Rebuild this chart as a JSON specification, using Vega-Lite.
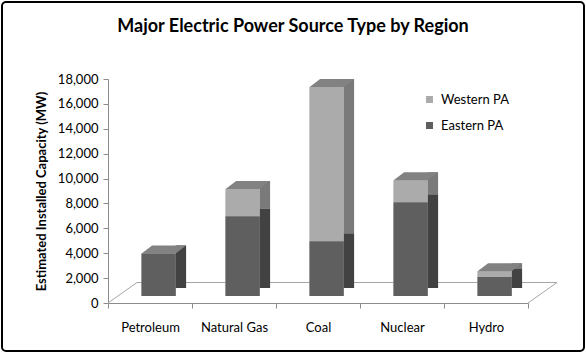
{
  "$schema": "https://vega.github.io/schema/vega-lite/v6.json",
  "width": 582,
  "height": 349,
  "autosize": "none",
  "padding": 2,
  "background": "white",
  "config": {
    "view": {"stroke": "#000000", "strokeWidth": 2, "cornerRadius": 4},
    "font": "Lato",
    "axis": {"domainColor": "#8c8c8c", "tickColor": "#8c8c8c", "labelColor": "#000000", "labelFont": "Lato", "labelFontSize": 13, "grid": false, "titleFont": "Lato", "titleFontSize": 13, "titleFontWeight": "bold", "titleColor": "#000000"},
    "axisX": {"labelAngle": 0, "tickBand": "extent", "tickSize": 5, "labelPadding": 13, "offset": -48},
    "axisY": {"tickSize": 5, "labelPadding": 5, "offset": -106, "titlePadding": 9}
  },
  "title": {
    "text": "Major Electric Power Source Type by Region",
    "font": "Lato",
    "fontSize": 18,
    "fontWeight": "bold",
    "color": "#000000",
    "anchor": "middle",
    "frame": "group",
    "baseline": "alphabetic",
    "offset": -48
  },
  "data": {
    "values": [
      {"Source": "Petroleum", "Region": "Eastern PA", "MW": 3420},
      {"Source": "Natural Gas", "Region": "Eastern PA", "MW": 6400},
      {"Source": "Coal", "Region": "Eastern PA", "MW": 4400},
      {"Source": "Nuclear", "Region": "Eastern PA", "MW": 7530},
      {"Source": "Hydro", "Region": "Eastern PA", "MW": 1530},
      {"Source": "Natural Gas", "Region": "Western PA", "MW": 2200},
      {"Source": "Coal", "Region": "Western PA", "MW": 12400},
      {"Source": "Nuclear", "Region": "Western PA", "MW": 1770},
      {"Source": "Hydro", "Region": "Western PA", "MW": 460}
    ]
  },
  "layer": [
    {
      "mark": {"type": "bar", "width": 34, "xOffset": 8.6, "yOffset": -7, "y2Offset": -7},
      "encoding": {
        "x": {
          "field": "Source", "type": "nominal",
          "sort": ["Petroleum", "Natural Gas", "Coal", "Nuclear", "Hydro"],
          "scale": {"range": [106, 526], "paddingInner": 0, "paddingOuter": 0},
          "title": null
        },
        "y": {
          "field": "MW", "type": "quantitative", "stack": "zero",
          "scale": {"domain": [0, 18000], "range": [301, 77], "nice": false},
          "title": "Estimated Installed Capacity (MW)",
          "axis": {"values": [0, 2000, 4000, 6000, 8000, 10000, 12000, 14000, 16000, 18000], "format": ",.0f", "labelOverlap": false, "tickCount": 20}
        },
        "order": {"field": "Region", "sort": "ascending"},
        "color": {
          "field": "Region", "type": "nominal",
          "scale": {"domain": ["Western PA", "Eastern PA"], "range": ["#ababab", "#5f5f5f"]},
          "legend": {
            "title": null, "orient": "none", "legendX": 421, "legendY": 91,
            "symbolType": "square", "symbolSize": 49, "symbolStrokeWidth": 0,
            "labelFont": "Lato", "labelFontSize": 13, "labelColor": "#000000",
            "labelOffset": 5, "rowPadding": 12, "padding": 0
          }
        }
      }
    },
    {
      "data": {"values": [{}]},
      "mark": {"type": "rule", "color": "#a6a6a6", "strokeWidth": 1, "xOffset": 29, "x2Offset": 29, "yOffset": -20.5},
      "encoding": {
        "x": {"datum": "Petroleum", "type": "nominal", "bandPosition": 0, "title": null},
        "x2": {"datum": "Hydro", "bandPosition": 1},
        "y": {"datum": 0, "type": "quantitative", "title": "Estimated Installed Capacity (MW)", "axis": {"values": [0, 2000, 4000, 6000, 8000, 10000, 12000, 14000, 16000, 18000], "format": ",.0f", "labelOverlap": false, "tickCount": 20}}
      }
    },
    {
      "data": {"values": [{}]},
      "mark": {"type": "rule", "color": "#a6a6a6", "strokeWidth": 1, "x2Offset": 29, "y2Offset": -20.5},
      "encoding": {
        "x": {"datum": "Petroleum", "type": "nominal", "bandPosition": 0, "title": null},
        "x2": {"datum": "Petroleum", "bandPosition": 0},
        "y": {"datum": 0, "type": "quantitative", "title": "Estimated Installed Capacity (MW)", "axis": {"values": [0, 2000, 4000, 6000, 8000, 10000, 12000, 14000, 16000, 18000], "format": ",.0f", "labelOverlap": false, "tickCount": 20}},
        "y2": {"datum": 0}
      }
    },
    {
      "data": {"values": [{}]},
      "mark": {"type": "rule", "color": "#a6a6a6", "strokeWidth": 1, "x2Offset": 29, "y2Offset": -20.5},
      "encoding": {
        "x": {"datum": "Hydro", "type": "nominal", "bandPosition": 1, "title": null},
        "x2": {"datum": "Hydro", "bandPosition": 1},
        "y": {"datum": 0, "type": "quantitative", "title": "Estimated Installed Capacity (MW)", "axis": {"values": [0, 2000, 4000, 6000, 8000, 10000, 12000, 14000, 16000, 18000], "format": ",.0f", "labelOverlap": false, "tickCount": 20}},
        "y2": {"datum": 0}
      }
    },
    {
      "mark": {"type": "bar", "width": 10.5, "xOffset": 30.85, "yOffset": -15, "y2Offset": -11},
      "encoding": {
        "x": {"field": "Source", "type": "nominal", "sort": ["Petroleum", "Natural Gas", "Coal", "Nuclear", "Hydro"], "title": null},
        "y": {"field": "MW", "type": "quantitative", "stack": "zero", "title": "Estimated Installed Capacity (MW)", "axis": {"values": [0, 2000, 4000, 6000, 8000, 10000, 12000, 14000, 16000, 18000], "format": ",.0f", "labelOverlap": false, "tickCount": 20}},
        "detail": {"field": "Region"},
        "order": {"field": "Region", "sort": "ascending"},
        "color": {"condition": {"test": "datum.Region === 'Western PA'", "value": "#7a7a7a"}, "value": "#424242"}
      }
    },
    {
      "mark": {"type": "bar", "width": 34, "xOffset": 8.6, "yOffset": -7, "y2Offset": -7},
      "encoding": {
        "x": {"field": "Source", "type": "nominal", "sort": ["Petroleum", "Natural Gas", "Coal", "Nuclear", "Hydro"], "title": null},
        "y": {"field": "MW", "type": "quantitative", "stack": "zero", "title": "Estimated Installed Capacity (MW)", "axis": {"values": [0, 2000, 4000, 6000, 8000, 10000, 12000, 14000, 16000, 18000], "format": ",.0f", "labelOverlap": false, "tickCount": 20}},
        "order": {"field": "Region", "sort": "ascending"},
        "color": {"field": "Region", "type": "nominal"}
      }
    },
    {
      "transform": [{"aggregate": [{"op": "sum", "field": "MW", "as": "Total"}], "groupby": ["Source"]}],
      "mark": {"type": "point", "filled": true, "opacity": 1, "shape": "M-17,0L17,0L27.5,-8L-6.5,-8Z", "size": 4, "xOffset": 8.6, "yOffset": -7, "strokeWidth": 0},
      "encoding": {
        "x": {"field": "Source", "type": "nominal", "sort": ["Petroleum", "Natural Gas", "Coal", "Nuclear", "Hydro"], "title": null},
        "y": {"field": "Total", "type": "quantitative", "title": "Estimated Installed Capacity (MW)", "axis": {"values": [0, 2000, 4000, 6000, 8000, 10000, 12000, 14000, 16000, 18000], "format": ",.0f", "labelOverlap": false, "tickCount": 20}},
        "color": {"value": "#828282"}
      }
    }
  ]
}
